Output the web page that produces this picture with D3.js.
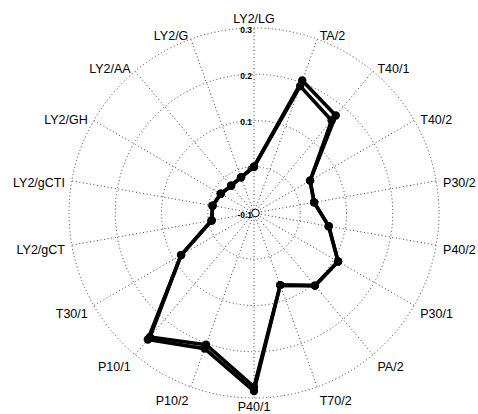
<!DOCTYPE html>
<html>
<head>
<meta charset="utf-8">
<script src="https://cdn.jsdelivr.net/npm/d3@7"></script>
<style>
  html, body { margin: 0; padding: 0; background: #fff; }
  svg { display: block; }
  .axis-label { font-family: "Liberation Sans", Arial, sans-serif; font-size: 12.5px; fill: #000; }
  .tick-label { font-family: "Liberation Sans", Arial, sans-serif; font-size: 8.5px; font-weight: bold; fill: #000; }
</style>
</head>
<body>
<svg id="chart" width="478" height="414"></svg>
<script>
// Axis names, clockwise from the top
const categories = ["LY2/LG", "TA/2", "T40/1", "T40/2", "P30/2", "P40/2", "P30/1", "PA/2", "T70/2",
                    "P40/1", "P10/2", "P10/1", "T30/1", "LY2/gCT", "LY2/gCTI", "LY2/GH", "LY2/AA", "LY2/G"];

// Two profiles, nearly coincident
const seriesA = [0.0, 0.205, 0.175, 0.040, 0.032, 0.064, 0.110, 0.105, 0.066,
                 0.285, 0.212, 0.257, 0.082, -0.007, -0.009, -0.017, -0.023, -0.018];
const seriesB = [0.0, 0.192, 0.161, 0.040, 0.032, 0.064, 0.110, 0.105, 0.066,
                 0.276, 0.203, 0.250, 0.082, -0.007, -0.009, -0.017, -0.023, -0.018];

// Radial ticks
const tickValues = [0.3, 0.2, 0.1, 0, -0.1];
const tickLabels = ["0.3", "0.2", "0.1", "0", "-0.1"];

const svg = d3.select("#chart");
const cx = 254, cy = 213, R = 185;

const r = d3.scaleLinear().domain([-0.1, 0.3]).range([0, R]);
const angle = d3.scaleLinear().domain([0, categories.length]).range([0, 2 * Math.PI]);

const g = svg.append("g").attr("transform", `translate(${cx},${cy})`);

const gridStyle = sel => sel
  .attr("fill", "none")
  .attr("stroke", "#3a3a3a")
  .attr("stroke-width", 1)
  .attr("stroke-dasharray", "1,2.6");

// Rings
g.append("g").selectAll("circle")
  .data(tickValues.filter(v => v > -0.1))
  .join("circle")
  .attr("r", d => r(d))
  .call(gridStyle);

// Spokes
g.append("g").selectAll("line")
  .data(categories)
  .join("line")
  .attr("x1", 0).attr("y1", 0)
  .attr("x2", (d, i) => r(0.3) * Math.sin(angle(i)))
  .attr("y2", (d, i) => -r(0.3) * Math.cos(angle(i)))
  .call(gridStyle);

// Tick labels along the top spoke
g.append("g").selectAll("text")
  .data(tickValues)
  .join("text")
  .attr("class", "tick-label")
  .attr("x", -2)
  .attr("y", d => -r(d) + 2)
  .attr("dy", "0.35em")
  .attr("text-anchor", "end")
  .text((d, i) => tickLabels[i]);

// Origin marker
g.append("circle")
  .attr("cx", 1.5).attr("cy", 0).attr("r", 3.8)
  .attr("fill", "#fff").attr("stroke", "#000").attr("stroke-width", 1);

// Axis labels
g.append("g").selectAll("text")
  .data(categories)
  .join("text")
  .attr("class", "axis-label")
  .each(function (d, i) {
    const a = angle(i);
    const s = Math.sin(a), c = Math.cos(a);
    const onAxis = Math.abs(s) < 0.1;
    const lr = onAxis ? R + 9 : R + 7;
    const x = lr * s;
    const y = onAxis ? -lr * c : -lr * c + 3 + 4 * Math.max(0, -c);
    d3.select(this)
      .attr("x", x)
      .attr("y", y)
      .attr("dy", "0.35em")
      .attr("text-anchor", s > 0.1 ? "start" : (s < -0.1 ? "end" : "middle"))
      .text(d);
  });

// Profiles
const radial = d3.lineRadial()
  .angle((d, i) => angle(i))
  .radius(d => r(d))
  .curve(d3.curveLinearClosed);

[seriesB, seriesA].forEach(values => {
  g.append("path")
    .datum(values)
    .attr("d", radial)
    .attr("fill", "none")
    .attr("stroke", "#000")
    .attr("stroke-width", 3.6)
    .attr("stroke-linejoin", "round");

  g.append("g").selectAll("circle")
    .data(values)
    .join("circle")
    .attr("cx", (d, i) => r(d) * Math.sin(angle(i)))
    .attr("cy", (d, i) => -r(d) * Math.cos(angle(i)))
    .attr("r", 4.2)
    .attr("fill", "#000");
});
</script>
</body>
</html>
